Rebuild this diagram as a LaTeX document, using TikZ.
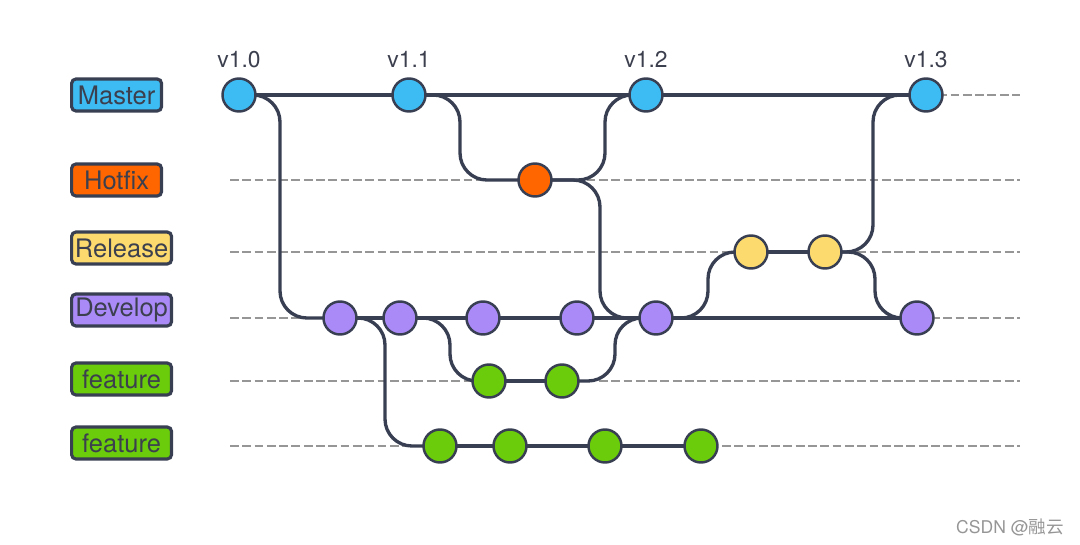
\documentclass[tikz,border=0pt]{standalone}
\usepackage{fontspec}
\usetikzlibrary{backgrounds}
\setmainfont{TeX Gyre Heros}
\newfontfamily\cjk{Noto Sans CJK SC}
\definecolor{linecol}{RGB}{56,63,82}
\definecolor{lanecol}{RGB}{150,150,150}
\definecolor{mastercol}{RGB}{61,187,243}
\definecolor{hotfixcol}{RGB}{255,102,0}
\definecolor{releasecol}{RGB}{252,218,110}
\definecolor{developcol}{RGB}{169,138,247}
\definecolor{featurecol}{RGB}{106,204,10}
\definecolor{textcol}{RGB}{60,64,78}
\tikzset{
  commit/.style={circle, draw=linecol, line width=1.4pt, fill=#1,
    minimum size=0.66cm, inner sep=0pt},
  branchbox/.style={draw=linecol, line width=1.8pt, fill=#1, rounded corners=2.5pt,
    minimum height=0.64cm, inner sep=0pt, anchor=west, text=textcol,
    font=\fontsize{14.5}{16}\selectfont},
  lane/.style={draw=lanecol, line width=1.6pt, dash pattern=on 5pt off 2pt},
  branch/.style={draw=linecol, line width=1.9pt, rounded corners=0.54cm},
  every label/.style={text=textcol, font=\fontsize{13}{15}\selectfont},
}
\begin{document}
\begin{tikzpicture}[x=0.02cm, y=-0.02cm]
    \useasboundingbox (0,0) rectangle (1080,545);
    % branch names
    \node[branchbox=mastercol, minimum width=1.8cm] (lmaster) at (70,95) {Master};
    \node[branchbox=hotfixcol, minimum width=1.8cm] (lhotfix) at (70,180) {Hotfix};
    \node[branchbox=releasecol, minimum width=2cm] (lrelease) at (70,248) {Release};
    \node[branchbox=developcol, minimum width=2cm] (ldevelop) at (70,310) {Develop};
    \node[branchbox=featurecol, minimum width=2cm] (lfeatA) at (70,379) {feature};
    \node[branchbox=featurecol, minimum width=2cm] (lfeatB) at (70,443) {feature};
    % commits
    \node[commit=mastercol, label={[label distance=2pt]above:v1.0}] (v10) at (239,95) {};
    \node[commit=mastercol, label={[label distance=2pt]above:v1.1}] (v11) at (409,95) {};
    \node[commit=mastercol, label={[label distance=2pt]above:v1.2}] (v12) at (646,95) {};
    \node[commit=mastercol, label={[label distance=2pt]above:v1.3}] (v13) at (926,95) {};
    \node[commit=hotfixcol] (hf) at (535,180) {};
    \node[commit=releasecol] (r1) at (751,252) {};
    \node[commit=releasecol] (r2) at (825,252) {};
    \node[commit=developcol] (d1) at (340,318) {};
    \node[commit=developcol] (d2) at (400,318) {};
    \node[commit=developcol] (d3) at (483,318) {};
    \node[commit=developcol] (d4) at (577,318) {};
    \node[commit=developcol] (d5) at (656,318) {};
    \node[commit=developcol] (d6) at (917,318) {};
    \node[commit=featurecol] (fa1) at (489,381) {};
    \node[commit=featurecol] (fa2) at (562,381) {};
    \node[commit=featurecol] (fb1) at (440,446) {};
    \node[commit=featurecol] (fb2) at (510,446) {};
    \node[commit=featurecol] (fb3) at (605,446) {};
    \node[commit=featurecol] (fb4) at (701,446) {};
    \begin{scope}[on background layer]
    % dashed lanes
    \foreach \y in {180,252,318,381,446}
      \draw[lane] (230,\y) -- (1020,\y);
    \draw[lane] (v13.center) -- (1020,95);
    % straight history
    \draw[branch] (v10.center) -- (v13.center);
    \draw[branch] (d1.center) -- (d6.center);
    \draw[branch] (fa1.center) -- (fa2.center);
    \draw[branch] (fb1.center) -- (fb4.center);
    \draw[branch] (r1.center) -- (r2.center);
    % forks and merges
    \draw[branch] (v10.center) -- ++(41,0) |- (d1.center);
    \draw[branch] (v11.center) -- ++(51,0) |- (hf.center);
    \draw[branch] (hf.center) -- ++(70,0) |- (v12.center);
    \draw[branch] (hf.center) -- ++(65,0) |- (d5.center);
    \draw[branch] (d1.center) -- ++(45,0) |- (fb1.center);
    \draw[branch] (d2.center) -- ++(50,0) |- (fa1.center);
    \draw[branch] (fa2.center) -- ++(53,0) |- (d5.center);
    \draw[branch] (d5.center) -- ++(52,0) |- (r1.center);
    \draw[branch] (r2.center) -- ++(48,0) |- (v13.center);
    \draw[branch] (r2.center) -- ++(50,0) |- (d6.center);
    \end{scope}
    \node[text=lanecol, font=\fontsize{10}{12}\selectfont] (mark) at (1010,527) {CSDN @{\cjk 融云}};
\end{tikzpicture}
\end{document}
